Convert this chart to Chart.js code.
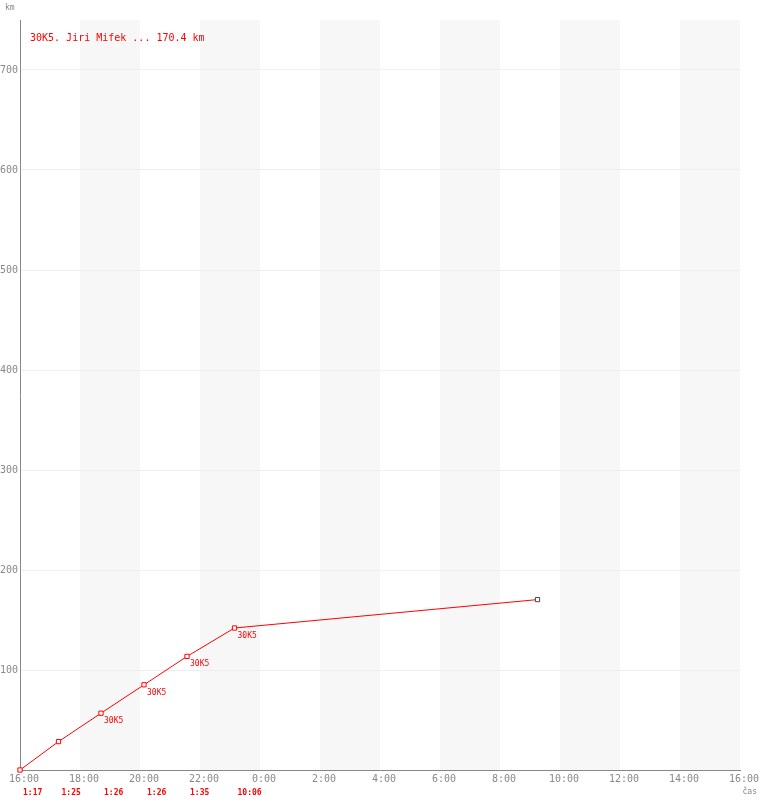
<!DOCTYPE html>
<html>
<head>
<meta charset="utf-8">
<script src="https://cdn.jsdelivr.net/npm/chart.js@4/dist/chart.umd.min.js"></script>
<style>
html,body{margin:0;padding:0;background:#fff;}
canvas{display:block;}
</style>
</head>
<body>
<canvas id="c" width="760" height="800"></canvas>
<script>
// Data (x = minutes elapsed since 16:00, y = km)
const elapsedMinutes = [0, 77, 162, 248, 334, 429, 1035];
const distanceKm = [0, 28.4, 56.8, 85.2, 113.6, 142.0, 170.4];
const pointLabels = ["", "", "30K5", "30K5", "30K5", "30K5", ""];
const segmentDurations = ["1:17", "1:25", "1:26", "1:26", "1:35", "10:06"];
const legendText = "30K5. Jiri Mifek ... 170.4 km";
const yTicks = [100, 200, 300, 400, 500, 600, 700];
const startHour = 16;

const MONO = '"DejaVu Sans Mono", "Liberation Mono", monospace';

const decorPlugin = {
  id: 'decor',
  beforeDatasetsDraw(chart) {},
  beforeDraw(chart) {
    const ctx = chart.ctx, xs = chart.scales.x, a = chart.chartArea;
    ctx.save();
    ctx.fillStyle = '#f7f7f7';
    for (let m = 120; m < 1440; m += 240) {
      const x1 = xs.getPixelForValue(m), x2 = xs.getPixelForValue(m + 120);
      ctx.fillRect(x1, a.top, x2 - x1, a.bottom - a.top);
    }
    ctx.restore();
  },
  afterDatasetsDraw(chart) {
    const ctx = chart.ctx, xs = chart.scales.x, ys = chart.scales.y, a = chart.chartArea;
    ctx.save();
    // point labels
    ctx.fillStyle = '#ff0000';
    ctx.font = '8px ' + MONO;
    ctx.textAlign = 'left';
    ctx.textBaseline = 'alphabetic';
    pointLabels.forEach((t, i) => {
      if (!t) return;
      const px = xs.getPixelForValue(elapsedMinutes[i]);
      const py = ys.getPixelForValue(distanceKm[i]);
      ctx.fillText(t, px + 3, py + 10);
    });
    // durations under axis
    ctx.font = 'bold 8px ' + MONO;
    segmentDurations.forEach((t, i) => {
      const px = xs.getPixelForValue(elapsedMinutes[i]);
      ctx.fillText(t, px + 3, 795);
    });
    // legend text
    ctx.font = '10px ' + MONO;
    ctx.fillText(legendText, a.left + 10, 41);
    // axis titles
    ctx.fillStyle = '#888';
    ctx.font = '8px ' + MONO;
    ctx.fillText('km', 5, 10);
    ctx.textAlign = 'right';
    ctx.fillText('čas', 757, 794);
    ctx.restore();
  }
};

new Chart(document.getElementById('c'), {
  type: 'line',
  data: {
    datasets: [{
      data: elapsedMinutes.map((m, i) => ({ x: m, y: distanceKm[i] })),
      borderColor: '#ff0000',
      borderWidth: 1,
      pointStyle: 'rect',
      pointRadius: 3,
      pointBorderWidth: 1,
      pointBackgroundColor: '#ffffff',
      pointBorderColor: elapsedMinutes.map((m, i) => i === elapsedMinutes.length - 1 ? '#444444' : '#ff0000'),
      tension: 0,
      clip: false
    }]
  },
  options: {
    responsive: false,
    devicePixelRatio: 1,
    animation: false,
    layout: { padding: { left: 0, top: 20, right: 20, bottom: 0 } },
    plugins: { legend: { display: false }, tooltip: { enabled: false } },
    scales: {
      x: {
        type: 'linear',
        min: 0, max: 1440,
        afterFit(s) { s.height = 30; },
        afterBuildTicks(s) {
          const t = [];
          for (let m = 0; m <= 1440; m += 120) t.push({ value: m });
          s.ticks = t;
        },
        ticks: {
          autoSkip: false, maxRotation: 0, minRotation: 0,
          padding: 3,
          labelOffset: 4,
          color: '#888',
          font: { family: MONO, size: 10 },
          callback: v => ((startHour + v / 60) % 24) + ':00'
        },
        grid: { display: true, color: 'rgba(0,0,0,0)', drawTicks: false },
        border: { display: true, color: '#888', width: 1 }
      },
      y: {
        type: 'linear',
        min: 0, max: 750,
        afterFit(s) { s.width = 20; },
        afterBuildTicks(s) { s.ticks = yTicks.map(v => ({ value: v })); },
        ticks: {
          padding: 2,
          color: '#888',
          font: { family: MONO, size: 10 }
        },
        grid: { color: '#eeeeee', drawTicks: false },
        border: { display: true, color: '#888', width: 1 }
      }
    }
  },
  plugins: [decorPlugin]
});
</script>
</body>
</html>
